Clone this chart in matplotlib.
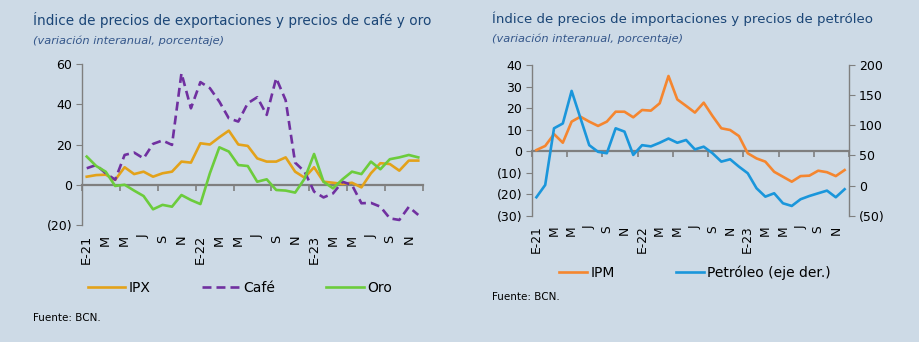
import numpy as np
import matplotlib as mpl
mpl.use('Agg')
import matplotlib.pyplot as plt
from matplotlib.ticker import FuncFormatter

######################
## data
######################

## months Jan-2021 .. Dec-2023, labels every second month
month_labels = ['E-21', 'M', 'M', 'J', 'S', 'N',
                'E-22', 'M', 'M', 'J', 'S', 'N',
                'E-23', 'M', 'M', 'J', 'S', 'N']

ipx = [4, 4.8, 5, 2.4, 8.7, 5.3, 6.5, 4, 5.7, 6.5, 11.5, 11,
       20.6, 20, 23.6, 26.9, 20, 19.3, 13.1, 11.5, 11.5, 13.6, 6.5, 3.5,
       8.7, 1.5, 1, 0.4, 1, -1.3, 5.7, 10.7, 10.3, 7, 12, 12]
cafe = [8.2, 9.8, 5.7, 2.5, 14.8, 16, 13.1, 20.3, 22, 19.8, 55.4, 38,
        51, 48, 41.3, 33, 31.4, 40.5, 43.5, 34.7, 53, 42, 11, 6.5,
        -3.4, -6.3, -4.3, 1.5, -0.1, -9.2, -9, -10.9, -16.7, -17.5, -11, -15]
oro = [14, 9.3, 6.5, -0.6, 0, -2.9, -5.6, -12.2, -10, -10.9, -5.1, -7.6,
       -9.6, 5.7, 18.6, 16.5, 9.8, 9.3, 1.5, 2.7, -2.6, -2.9, -3.9, 3,
       15.3, 1.5, -1.8, 2.7, 6.5, 5.3, 11.5, 7.7, 12.7, 13.6, 14.8, 13.6]

ipm = [0.5, 2.4, 7.9, 3.9, 13.7, 16, 13.7, 11.7, 13.7, 18.3, 18.3, 15.7,
       19.1, 18.8, 22.2, 34.9, 24, 21, 17.9, 22.5, 16.3, 10.6, 9.8, 7,
       -1, -3.4, -4.9, -9.6, -11.9, -14.2, -11.6, -11.4, -9.1, -9.8, -11.6, -8.8]
petroleo = [-19.4, 1, 95, 103, 157, 112, 67, 56, 53.6, 95, 89.5, 50.8,
            67, 65, 71, 78, 71, 75.6, 60, 64.5, 53.6, 39.7, 43.6, 31.4,
            20.4, -4.5, -18.4, -12.8, -29.4, -33.8, -22.7, -17.3, -12.8, -8.4, -19.4, -6.1]

######################
## style
######################

bg = '#cddae6'
grey = '#7f7f7f'
title_color = '#1b4677'
sub_color = '#34568a'

plt.rcParams['font.family'] = ['DejaVu Sans']
plt.rcParams['axes.linewidth'] = 1.0

def paren_fmt(v, pos):
    if v < 0:
        return '({:d})'.format(int(abs(v)))
    return '{:d}'.format(int(v))

n = len(ipx)
x = np.arange(n)
boundaries = np.arange(-0.5, n, 4)

fig = plt.figure(figsize=(9.2, 3.42), dpi=100, facecolor=bg)

def setup_axes(ax, ylo, yhi, step, xsize):
    ax.set_facecolor('none')
    ax.set_xlim(-0.5, n - 0.5)
    ax.set_ylim(ylo, yhi)
    ax.set_yticks(np.arange(ylo, yhi + 1, step))
    ax.yaxis.set_major_formatter(FuncFormatter(paren_fmt))
    for s in ['top', 'right', 'bottom']:
        ax.spines[s].set_visible(False)
    ax.spines['left'].set_color(grey)
    ax.tick_params(axis='y', direction='out', length=4, color=grey,
                   labelsize=9, pad=3)
    ax.set_xticks(x[::2], month_labels)
    ax.tick_params(axis='x', length=0, labelsize=xsize, rotation=90, pad=7)
    ## zero line with tick marks
    zero = ax.secondary_xaxis((0 - ylo) / (yhi - ylo))
    zero.set_xticks(boundaries, [''] * len(boundaries))
    zero.spines['bottom'].set_color(grey)
    zero.spines['bottom'].set_linewidth(1.6)
    zero.tick_params(direction='out', length=4, width=1.2, color=grey)

######################
## left chart
######################

ax1 = fig.add_axes([82 / 920, 1 - 225 / 342, 341 / 920, 161 / 342])
setup_axes(ax1, -20, 60, 20, 9.3)
ax1.plot(x, ipx, color='#e3a21a', lw=1.9, label='IPX', zorder=3)
ax1.plot(x, cafe, color='#7030a0', lw=1.9, ls=(0, (3.4, 1.9)), label='Café', zorder=3)
ax1.plot(x, oro, color='#6ccc3c', lw=1.9, label='Oro', zorder=3)

fig.text(33 / 920, 1 - 20 / 342, 'Índice de precios de exportaciones y precios de café y oro',
         color=title_color, fontsize=9.8, va='center', ha='left')
fig.text(33 / 920, 1 - 41 / 342, '(variación interanual, porcentaje)',
         color=sub_color, fontsize=8.2, style='italic', va='center', ha='left')

h, l = ax1.get_legend_handles_labels()
fig.legend(h, l, loc='center', bbox_to_anchor=(240 / 920, 1 - 288 / 342), ncol=3,
           frameon=False, fontsize=10, handlelength=2.7, handletextpad=0.25,
           columnspacing=3.7)
fig.text(33 / 920, 1 - 318 / 342, 'Fuente: BCN.', fontsize=7.5, va='center', ha='left')

######################
## right chart
######################

ax2 = fig.add_axes([532 / 920, 1 - 215.7 / 342, 317 / 920, 150.7 / 342])
setup_axes(ax2, -30, 40, 10, 8.8)
ax2.plot(x, ipm, color='#f5862f', lw=1.9, label='IPM', zorder=3)

ax3 = ax2.twinx()
ax3.set_ylim(-50, 200)
ax3.set_yticks(np.arange(-50, 201, 50))
ax3.yaxis.set_major_formatter(FuncFormatter(paren_fmt))
for s in ['top', 'left', 'bottom']:
    ax3.spines[s].set_visible(False)
ax3.spines['right'].set_color(grey)
ax3.tick_params(axis='y', direction='out', length=4, color=grey, labelsize=9, pad=3)
ax3.plot(x, petroleo, color='#1a96db', lw=1.9, label='Petróleo (eje der.)', zorder=3)

fig.text(492 / 920, 1 - 19 / 342, 'Índice de precios de importaciones y precios de petróleo',
         color=title_color, fontsize=9.6, va='center', ha='left')
fig.text(492 / 920, 1 - 39 / 342, '(variación interanual, porcentaje)',
         color=sub_color, fontsize=8.2, style='italic', va='center', ha='left')

h2, l2 = ax2.get_legend_handles_labels()
h3, l3 = ax3.get_legend_handles_labels()
fig.legend(h2 + h3, l2 + l3, loc='center', bbox_to_anchor=(695 / 920, 1 - 273 / 342), ncol=2,
           frameon=False, fontsize=10, handlelength=2.0, handletextpad=0.25,
           columnspacing=4.4)
fig.text(492 / 920, 1 - 297 / 342, 'Fuente: BCN.', fontsize=7.5, va='center', ha='left')

fig.savefig('out.png', dpi=100, facecolor=bg)
